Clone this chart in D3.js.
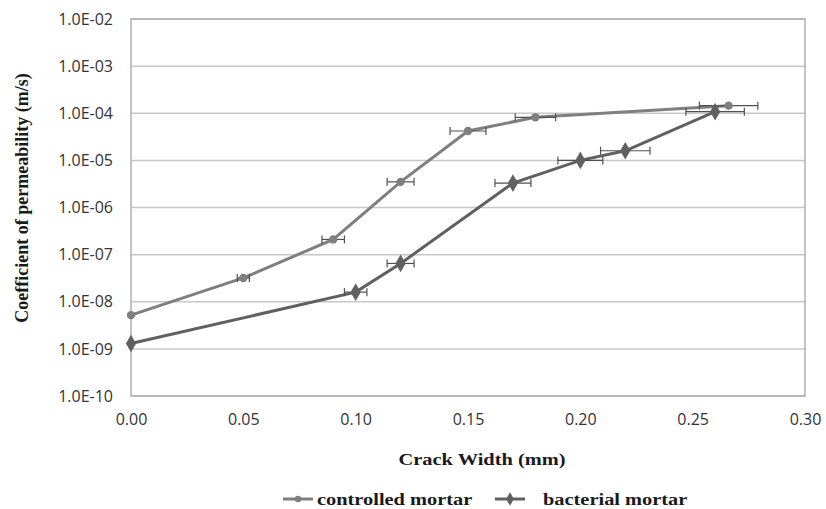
<!DOCTYPE html>
<html>
<head>
<meta charset="utf-8">
<script src="https://cdn.jsdelivr.net/npm/d3@7"></script>
<style>
  body { margin: 0; background: #fff; }
  svg { display: block; }
</style>
</head>
<body>
<div id="chart"></div>
<script>
// Data
const controlledX = [0, 0.05, 0.09, 0.12, 0.15, 0.18, 0.266]
const controlledY = [5.2e-9, 3.2e-8, 2.1e-7, 3.5e-6, 4.2e-5, 8.2e-5, 1.45e-4]
const controlledErr = [0, 0.0027, 0.005, 0.006, 0.008, 0.009, 0.013]

const bacterialX = [0, 0.10, 0.12, 0.17, 0.20, 0.22, 0.26]
const bacterialY = [1.3e-9, 1.6e-8, 6.5e-8, 3.3e-6, 1.0e-5, 1.6e-5, 1.08e-4]
const bacterialErr = [0, 0.005, 0.006, 0.008, 0.01, 0.011, 0.013]

const xTicks = [0, 0.05, 0.10, 0.15, 0.20, 0.25, 0.30]
const yTicks = [1e-10, 1e-9, 1e-8, 1e-7, 1e-6, 1e-5, 1e-4, 1e-3, 1e-2]
const yTickLabels = ['1.0E-10', '1.0E-09', '1.0E-08', '1.0E-07', '1.0E-06', '1.0E-05', '1.0E-04', '1.0E-03', '1.0E-02']

const width = 826
const height = 509
const margin = { top: 19, right: 21, bottom: 113, left: 131 }
const graphWidth = width - margin.left - margin.right
const graphHeight = height - margin.top - margin.bottom

const svg = d3.select('#chart')
    .append('svg')
    .attr('width', width)
    .attr('height', height)

const g = svg.append('g')
    .attr('transform', `translate(${margin.left}, ${margin.top})`)

const x = d3.scaleLinear().domain([0, 0.30]).range([0, graphWidth])
const y = d3.scaleLog().domain([1e-10, 1e-2]).range([graphHeight, 0])

// gridlines
g.append('g')
    .selectAll('line')
    .data(yTicks)
    .join('line')
    .attr('x1', 0).attr('x2', graphWidth)
    .attr('y1', d => y(d)).attr('y2', d => y(d))
    .attr('stroke', '#c8c8c8')
    .attr('stroke-width', 1.5)

// frame
g.append('rect')
    .attr('width', graphWidth).attr('height', graphHeight)
    .attr('fill', 'none')
    .attr('stroke', '#b0b0b0')
    .attr('stroke-width', 1.5)

// axes
const xAxis = d3.axisBottom(x).tickValues(xTicks).tickFormat(d3.format('.2f')).tickSize(0).tickPadding(18)
const yAxis = d3.axisLeft(y).tickValues(yTicks).tickFormat((d, i) => yTickLabels[i]).tickSize(0).tickPadding(18)

const xAxisGroup = g.append('g').attr('transform', `translate(0, ${graphHeight})`).call(xAxis)
const yAxisGroup = g.append('g').call(yAxis)
;[xAxisGroup, yAxisGroup].forEach(a => {
    a.select('.domain').remove()
    a.selectAll('text')
        .style('font-family', 'Open Sans, sans-serif')
        .style('font-size', '16px')
        .attr('fill', '#333')
})

// series
const series = [
    { name: 'controlled mortar', xs: controlledX, ys: controlledY, err: controlledErr, color: '#7f7f7f', shape: d3.symbolCircle, size: 55 },
    { name: 'bacterial mortar', xs: bacterialX, ys: bacterialY, err: bacterialErr, color: '#606060', shape: d3.symbolDiamond, size: 90 }
]

const line = d3.line().x(d => x(d[0])).y(d => y(d[1]))

series.forEach(s => {
    const pts = s.xs.map((v, i) => [v, s.ys[i], s.err[i]])
    g.append('path')
        .datum(pts)
        .attr('d', line)
        .attr('fill', 'none')
        .attr('stroke', s.color)
        .attr('stroke-width', 3)

    // horizontal error bars
    const eb = g.append('g').attr('stroke', '#505050').attr('stroke-width', 1.2)
    pts.filter(d => d[2] > 0).forEach(d => {
        const cy = y(d[1])
        const x0 = x(d[0] - d[2]), x1 = x(d[0] + d[2])
        eb.append('line').attr('x1', x0).attr('x2', x1).attr('y1', cy).attr('y2', cy)
        eb.append('line').attr('x1', x0).attr('x2', x0).attr('y1', cy - 4).attr('y2', cy + 4)
        eb.append('line').attr('x1', x1).attr('x2', x1).attr('y1', cy - 4).attr('y2', cy + 4)
    })

    g.append('g')
        .selectAll('path')
        .data(pts)
        .join('path')
        .attr('transform', d => `translate(${x(d[0])}, ${y(d[1])})`)
        .attr('d', d3.symbol().type(s.shape).size(s.size))
        .attr('fill', s.color)
})

// axis titles (the source image is stretched sideways, hence the scaleX)
const serif = 'Liberation Serif, serif'
svg.append('text')
    .attr('transform', 'translate(482, 465) scale(1.2, 1)')
    .attr('text-anchor', 'middle')
    .style('font-family', serif)
    .style('font-weight', 'bold')
    .style('font-size', '17px')
    .attr('fill', '#1a1a1a')
    .text('Crack Width (mm)')

svg.append('text')
    .attr('transform', 'translate(28, 198) rotate(-90)')
    .attr('text-anchor', 'middle')
    .style('font-family', serif)
    .style('font-weight', 'bold')
    .style('font-size', '18px')
    .attr('fill', '#1a1a1a')
    .text('Coefficient of permeability (m/s)')

// legend
const legendPos = [{ lx: 283, tx: 317 }, { lx: 495, tx: 543 }]
series.forEach((s, i) => {
    const lg = svg.append('g').attr('transform', `translate(0, 499)`)
    const p = legendPos[i]
    lg.append('line')
        .attr('x1', p.lx).attr('x2', p.lx + 30)
        .attr('stroke', s.color).attr('stroke-width', 3)
    lg.append('path')
        .attr('transform', `translate(${p.lx + 15}, 0)`)
        .attr('d', d3.symbol().type(s.shape).size(s.size * 0.6))
        .attr('fill', s.color)
    lg.append('text')
        .attr('transform', `translate(${p.tx}, 6) scale(1.2, 1)`)
        .style('font-family', serif)
        .style('font-weight', 'bold')
        .style('font-size', '17px')
        .attr('fill', '#1a1a1a')
        .text(s.name)
})
</script>
</body>
</html>
